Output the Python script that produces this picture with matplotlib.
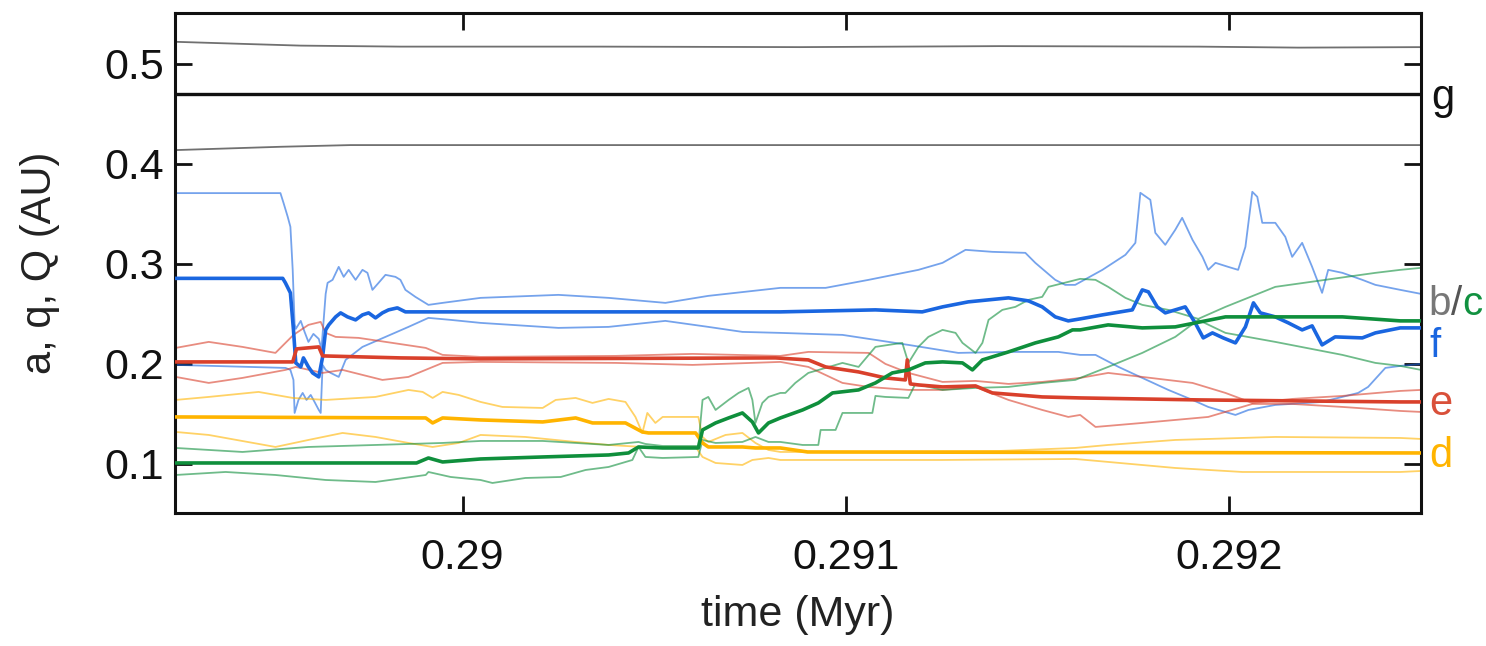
import matplotlib
matplotlib.use("Agg")
import matplotlib.pyplot as plt

plt.rcParams['font.family'] = ['Liberation Sans', 'DejaVu Sans']

# ---------------- data (time in Myr, distances in AU) ----------------
x_ticks = [0.29, 0.291, 0.292]
x_tick_labels = ['0.29', '0.291', '0.292']
y_ticks = [0.1, 0.2, 0.3, 0.4, 0.5]
y_tick_labels = ['0.1', '0.2', '0.3', '0.4', '0.5']

g_a = [(0.28925, 0.4695), (0.2925, 0.4695)]
g_Q = [(0.289252, 0.5219), (0.289447, 0.5196), (0.289578, 0.5181), (0.289838, 0.5171),
       (0.29036, 0.5171), (0.29088, 0.5166), (0.2914, 0.5176), (0.29192, 0.5171),
       (0.29218, 0.5161), (0.2925, 0.5166)]
g_q = [(0.289252, 0.4137), (0.289525, 0.417), (0.289708, 0.4187), (0.2925, 0.4187)]

f_a = [(0.289252, 0.2855), (0.289531, 0.2855), (0.289538, 0.281), (0.289551, 0.271),
       (0.289559, 0.234), (0.289565, 0.201), (0.289578, 0.197), (0.289585, 0.206),
       (0.289598, 0.197), (0.289609, 0.191), (0.289625, 0.187), (0.289635, 0.207),
       (0.289643, 0.234), (0.289651, 0.239), (0.289669, 0.247), (0.289682, 0.251),
       (0.289700, 0.247), (0.289721, 0.244), (0.289739, 0.249), (0.289755, 0.251),
       (0.289773, 0.246), (0.289791, 0.251), (0.289807, 0.254), (0.289830, 0.256),
       (0.289851, 0.252), (0.290047, 0.252), (0.290829, 0.252), (0.291077, 0.254),
       (0.291199, 0.252), (0.291252, 0.257), (0.291319, 0.262), (0.291424, 0.266),
       (0.291476, 0.263), (0.291512, 0.257), (0.291546, 0.247), (0.291580, 0.243),
       (0.291611, 0.245), (0.291669, 0.249), (0.291747, 0.254), (0.291773, 0.274),
       (0.291789, 0.272), (0.291812, 0.257), (0.291833, 0.251), (0.291859, 0.254),
       (0.291885, 0.257), (0.291911, 0.241), (0.291932, 0.226), (0.291956, 0.231),
       (0.291984, 0.226), (0.292016, 0.221), (0.292042, 0.237), (0.292063, 0.261),
       (0.292081, 0.251), (0.292120, 0.247), (0.292154, 0.241), (0.292190, 0.234),
       (0.292216, 0.238), (0.292242, 0.219), (0.292276, 0.227), (0.292347, 0.226),
       (0.292381, 0.231), (0.292446, 0.236), (0.2925, 0.236)]
f_Q = [(0.289252, 0.3707), (0.289525, 0.3707), (0.289533, 0.361), (0.289544, 0.347),
       (0.289551, 0.337), (0.289557, 0.294), (0.289562, 0.240), (0.289565, 0.235),
       (0.289578, 0.243), (0.289588, 0.232), (0.289598, 0.222), (0.289611, 0.230),
       (0.289625, 0.225), (0.289632, 0.215), (0.289643, 0.270), (0.289648, 0.281),
       (0.289661, 0.284), (0.289677, 0.297), (0.289690, 0.287), (0.289703, 0.294),
       (0.289721, 0.284), (0.289739, 0.294), (0.289752, 0.291), (0.289765, 0.274),
       (0.289781, 0.281), (0.289799, 0.289), (0.289825, 0.287), (0.289838, 0.284),
       (0.289851, 0.274), (0.289877, 0.267), (0.289911, 0.259), (0.289948, 0.261),
       (0.290047, 0.266), (0.290250, 0.269), (0.290381, 0.266), (0.290529, 0.261),
       (0.290641, 0.268), (0.290829, 0.276), (0.290947, 0.276), (0.291059, 0.284),
       (0.291189, 0.294), (0.291252, 0.301), (0.291312, 0.314), (0.291382, 0.312),
       (0.291468, 0.311), (0.291494, 0.301), (0.291546, 0.284), (0.291572, 0.279),
       (0.291598, 0.279), (0.291669, 0.294), (0.291729, 0.309), (0.291755, 0.321),
       (0.291768, 0.371), (0.291794, 0.364), (0.291807, 0.331), (0.291833, 0.319),
       (0.291859, 0.334), (0.291877, 0.346), (0.291904, 0.324), (0.291930, 0.307),
       (0.291945, 0.294), (0.291964, 0.301), (0.291997, 0.297), (0.292023, 0.294),
       (0.292042, 0.317), (0.292060, 0.372), (0.292073, 0.367), (0.292086, 0.341),
       (0.292120, 0.341), (0.292146, 0.327), (0.292164, 0.307), (0.292190, 0.321),
       (0.292216, 0.297), (0.292242, 0.271), (0.292258, 0.294), (0.292295, 0.291),
       (0.292347, 0.284), (0.292381, 0.279), (0.292446, 0.274), (0.2925, 0.270)]
f_q = [(0.289252, 0.199), (0.289538, 0.196), (0.289551, 0.194), (0.289559, 0.184),
       (0.289562, 0.151), (0.289572, 0.164), (0.289583, 0.171), (0.289593, 0.164),
       (0.289604, 0.169), (0.289614, 0.162), (0.289625, 0.154), (0.289630, 0.151),
       (0.289635, 0.199), (0.289643, 0.194), (0.289656, 0.191), (0.289677, 0.187),
       (0.289695, 0.204), (0.289739, 0.217), (0.289799, 0.227), (0.289859, 0.237),
       (0.289911, 0.246), (0.289969, 0.244), (0.290047, 0.241), (0.290250, 0.236),
       (0.290381, 0.237), (0.290529, 0.243), (0.290641, 0.237), (0.290730, 0.232),
       (0.290829, 0.231), (0.290991, 0.229), (0.291163, 0.219), (0.291293, 0.211),
       (0.291424, 0.212), (0.291554, 0.212), (0.291611, 0.209), (0.291651, 0.209),
       (0.291711, 0.197), (0.291773, 0.186), (0.291841, 0.174), (0.291904, 0.164),
       (0.291945, 0.157), (0.292016, 0.149), (0.292050, 0.154), (0.292120, 0.159),
       (0.292242, 0.162), (0.292336, 0.171), (0.292362, 0.177), (0.292407, 0.196),
       (0.292446, 0.198), (0.2925, 0.200)]

e_a = [(0.289252, 0.202), (0.289557, 0.202), (0.289567, 0.215), (0.289625, 0.217),
       (0.289635, 0.208), (0.289838, 0.206), (0.290047, 0.205), (0.290816, 0.206),
       (0.290902, 0.204), (0.290947, 0.197), (0.291033, 0.192), (0.291103, 0.186),
       (0.291155, 0.184), (0.291160, 0.204), (0.291168, 0.180), (0.291189, 0.179),
       (0.291252, 0.177), (0.291338, 0.178), (0.291382, 0.171), (0.291512, 0.167),
       (0.291611, 0.166), (0.291924, 0.164), (0.292446, 0.162), (0.2925, 0.162)]
e_Q = [(0.289252, 0.216), (0.289338, 0.222), (0.289426, 0.217), (0.289512, 0.211),
       (0.289559, 0.229), (0.289598, 0.239), (0.289630, 0.242), (0.289643, 0.231),
       (0.289669, 0.227), (0.289729, 0.226), (0.289817, 0.221), (0.289904, 0.216),
       (0.289948, 0.209), (0.290047, 0.207), (0.290400, 0.208), (0.290600, 0.210),
       (0.290829, 0.208), (0.290902, 0.212), (0.291059, 0.211), (0.291103, 0.200),
       (0.291163, 0.191), (0.291252, 0.182), (0.291338, 0.183), (0.291424, 0.180),
       (0.291512, 0.182), (0.291611, 0.186), (0.291684, 0.191), (0.291773, 0.187),
       (0.291904, 0.181), (0.291990, 0.171), (0.292060, 0.161), (0.292164, 0.165),
       (0.292295, 0.168), (0.292446, 0.173), (0.2925, 0.174)]
e_q = [(0.289252, 0.187), (0.289338, 0.181), (0.289426, 0.186), (0.289538, 0.194),
       (0.289565, 0.197), (0.289635, 0.191), (0.289687, 0.194), (0.289791, 0.184),
       (0.289859, 0.187), (0.289948, 0.201), (0.290047, 0.202), (0.290400, 0.201),
       (0.290600, 0.199), (0.290829, 0.202), (0.290902, 0.197), (0.290991, 0.181),
       (0.291059, 0.177), (0.291163, 0.174), (0.291252, 0.174), (0.291338, 0.177),
       (0.291424, 0.164), (0.291512, 0.154), (0.291580, 0.147), (0.291611, 0.149),
       (0.291651, 0.137), (0.291773, 0.141), (0.291945, 0.147), (0.292060, 0.160),
       (0.292164, 0.160), (0.292295, 0.157), (0.292446, 0.153), (0.2925, 0.152)]

d_a = [(0.289252, 0.147), (0.289904, 0.146), (0.289922, 0.141), (0.289948, 0.146),
       (0.290047, 0.144), (0.290209, 0.142), (0.290295, 0.146), (0.290339, 0.141),
       (0.290425, 0.141), (0.290469, 0.132), (0.290485, 0.131), (0.290608, 0.131),
       (0.290626, 0.121), (0.290641, 0.117), (0.290730, 0.117), (0.290764, 0.116),
       (0.290829, 0.116), (0.290900, 0.112), (0.2925, 0.111)]
d_Q = [(0.289252, 0.164), (0.289338, 0.167), (0.289468, 0.172), (0.289557, 0.166),
       (0.289643, 0.164), (0.289773, 0.167), (0.289859, 0.174), (0.289896, 0.172),
       (0.289922, 0.166), (0.289948, 0.172), (0.289990, 0.169), (0.290047, 0.162),
       (0.290104, 0.157), (0.290209, 0.156), (0.290243, 0.164), (0.290295, 0.166),
       (0.290339, 0.161), (0.290381, 0.165), (0.290425, 0.162), (0.290451, 0.147),
       (0.290469, 0.131), (0.290482, 0.151), (0.290503, 0.141), (0.290522, 0.147),
       (0.290615, 0.147), (0.290626, 0.127), (0.290641, 0.122), (0.290686, 0.129),
       (0.290730, 0.131), (0.290764, 0.121), (0.290798, 0.114), (0.290829, 0.112),
       (0.290902, 0.112), (0.291400, 0.113), (0.291598, 0.116), (0.291684, 0.119),
       (0.291859, 0.124), (0.292120, 0.127), (0.292446, 0.126), (0.2925, 0.125)]
d_q = [(0.289252, 0.132), (0.289338, 0.129), (0.289512, 0.117), (0.289598, 0.124),
       (0.289687, 0.131), (0.289773, 0.127), (0.289859, 0.121), (0.289922, 0.117),
       (0.289990, 0.121), (0.290047, 0.129), (0.290164, 0.127), (0.290295, 0.122),
       (0.290381, 0.119), (0.290469, 0.117), (0.290608, 0.117), (0.290626, 0.107),
       (0.290660, 0.101), (0.290730, 0.099), (0.290756, 0.104), (0.290798, 0.106),
       (0.290829, 0.104), (0.291000, 0.104), (0.291250, 0.104), (0.291598, 0.105),
       (0.291859, 0.096), (0.292034, 0.092), (0.292446, 0.092), (0.2925, 0.093)]

c_a = [(0.289252, 0.101), (0.289880, 0.101), (0.289911, 0.106), (0.289948, 0.102),
       (0.290047, 0.105), (0.290209, 0.107), (0.290381, 0.109), (0.290433, 0.111),
       (0.290459, 0.117), (0.290522, 0.116), (0.290615, 0.116), (0.290626, 0.134),
       (0.290660, 0.141), (0.290694, 0.146), (0.290730, 0.151), (0.290756, 0.142),
       (0.290772, 0.131), (0.290798, 0.141), (0.290829, 0.146), (0.290887, 0.154),
       (0.290928, 0.161), (0.290965, 0.171), (0.291033, 0.174), (0.291077, 0.181),
       (0.291121, 0.191), (0.291163, 0.194), (0.291207, 0.201), (0.291252, 0.202),
       (0.291304, 0.201), (0.291330, 0.194), (0.291356, 0.204), (0.291424, 0.212),
       (0.291494, 0.221), (0.291554, 0.227), (0.291591, 0.234), (0.291611, 0.234),
       (0.291684, 0.239), (0.291773, 0.236), (0.291859, 0.237), (0.291990, 0.247),
       (0.292120, 0.247), (0.292295, 0.247), (0.292446, 0.243), (0.2925, 0.243)]
c_Q = [(0.289252, 0.116), (0.289426, 0.112), (0.289598, 0.117), (0.289773, 0.119),
       (0.289948, 0.121), (0.290047, 0.123), (0.290209, 0.123), (0.290381, 0.119),
       (0.290459, 0.122), (0.290477, 0.120), (0.290522, 0.118), (0.290615, 0.118),
       (0.290626, 0.164), (0.290641, 0.167), (0.290660, 0.154), (0.290694, 0.164),
       (0.290720, 0.171), (0.290746, 0.176), (0.290756, 0.164), (0.290764, 0.141),
       (0.290782, 0.161), (0.290798, 0.167), (0.290829, 0.171), (0.290842, 0.171),
       (0.290868, 0.181), (0.290902, 0.191), (0.290947, 0.196), (0.290991, 0.201),
       (0.291033, 0.197), (0.291077, 0.217), (0.291111, 0.219), (0.291147, 0.221),
       (0.291163, 0.201), (0.291189, 0.217), (0.291215, 0.227), (0.291252, 0.234),
       (0.291286, 0.231), (0.291304, 0.221), (0.291338, 0.211), (0.291356, 0.221),
       (0.291372, 0.244), (0.291408, 0.254), (0.291442, 0.257), (0.291476, 0.264),
       (0.291512, 0.267), (0.291528, 0.277), (0.291580, 0.282), (0.291611, 0.285),
       (0.291651, 0.284), (0.291684, 0.277), (0.291729, 0.266), (0.291773, 0.259),
       (0.291841, 0.254), (0.291919, 0.245), (0.291990, 0.257), (0.292120, 0.277),
       (0.292250, 0.284), (0.292381, 0.291), (0.292446, 0.294), (0.2925, 0.296)]
c_q = [(0.289252, 0.089), (0.289382, 0.092), (0.289512, 0.089), (0.289643, 0.084),
       (0.289773, 0.082), (0.289904, 0.089), (0.289911, 0.092), (0.289969, 0.087),
       (0.290047, 0.084), (0.290078, 0.081), (0.290164, 0.086), (0.290256, 0.087),
       (0.290321, 0.094), (0.290381, 0.097), (0.290443, 0.104), (0.290459, 0.117),
       (0.290477, 0.107), (0.290522, 0.106), (0.290615, 0.107), (0.290626, 0.124),
       (0.290660, 0.121), (0.290730, 0.122), (0.290764, 0.127), (0.290798, 0.122),
       (0.290829, 0.122), (0.290887, 0.119), (0.290928, 0.119), (0.290934, 0.134),
       (0.290973, 0.134), (0.290991, 0.151), (0.291069, 0.151), (0.291077, 0.168),
       (0.291103, 0.167), (0.291163, 0.166), (0.291181, 0.180), (0.291252, 0.174),
       (0.291338, 0.176), (0.291424, 0.177), (0.291512, 0.181), (0.291598, 0.184),
       (0.291684, 0.197), (0.291773, 0.211), (0.291859, 0.227), (0.291919, 0.244),
       (0.291990, 0.231), (0.292120, 0.222), (0.292295, 0.209), (0.292381, 0.201),
       (0.292446, 0.198), (0.2925, 0.194)]

planet_colors = {'g': '#111111', 'f': '#1a66e0', 'e': '#d9402b',
                 'd': '#ffb400', 'c': '#0f8f3c'}

# ---------------- figure ----------------
fig = plt.figure(figsize=(14.86, 6.46), dpi=100)
ax = fig.add_axes([175 / 1486, 1 - 513 / 646, 1246 / 1486, (513 - 12.7) / 646])

def draw(series, color, thick):
    t, v = zip(*series)
    if thick:
        ax.plot(t, v, color=color, lw=2.6, solid_joinstyle='round', zorder=3)
    else:
        ax.plot(t, v, color=color, lw=1.3, alpha=0.6, zorder=2)

for name, (sa, sQ, sq) in {'g': (g_a, g_Q, g_q), 'f': (f_a, f_Q, f_q),
                           'e': (e_a, e_Q, e_q), 'd': (d_a, d_Q, d_q),
                           'c': (c_a, c_Q, c_q)}.items():
    col = planet_colors[name]
    draw(sQ, col, False)
    draw(sq, col, False)
    if name == 'g':
        t, v = zip(*sa)
        ax.plot(t, v, color=col, lw=2.4, zorder=4)
    else:
        draw(sa, col, True)

ax.set_xlim(0.28925, 0.2925)
ax.set_ylim(0.051, 0.551)
ax.set_xticks(x_ticks)
ax.set_xticklabels(x_tick_labels)
ax.set_yticks(y_ticks)
ax.set_yticklabels(y_tick_labels)

for s in ax.spines.values():
    s.set_linewidth(2.2)
    s.set_color('#111111')
ax.tick_params(direction='in', length=12, width=2, top=True, right=True,
               labelsize=31, colors='#111111')
ax.tick_params(axis='x', pad=18)
ax.tick_params(axis='y', pad=8)

ax.set_xlabel('time (Myr)', fontsize=31, labelpad=12, color='#222222')
ax.set_ylabel('a, q, Q (AU)', fontsize=30, color='#222222')
ax.yaxis.set_label_coords(-0.092, 0.5)

# right-hand labels
tr = ax.get_yaxis_transform()
ax.text(1.008, 0.4547, 'g', color='#111111', fontsize=30, transform=tr,
        ha='left', va='baseline', clip_on=False)
tb = ax.text(1.006, 0.249, 'b', color='#777777', fontsize=29, transform=tr,
             ha='left', va='baseline', clip_on=False)
ts = ax.annotate('/', xy=(1, 0), xycoords=tb, fontsize=29, color='#555555',
                 ha='left', va='bottom', annotation_clip=False)
ax.annotate('c', xy=(1, 0), xycoords=ts, fontsize=29, color='#119140',
            ha='left', va='bottom', annotation_clip=False)
ax.text(1.007, 0.207, 'f', color='#1a66e0', fontsize=29, transform=tr,
        ha='left', va='baseline', clip_on=False)
ax.text(1.007, 0.149, 'e', color='#d9503a', fontsize=30, transform=tr,
        ha='left', va='baseline', clip_on=False)
ax.text(1.007, 0.097, 'd', color='#ffb400', fontsize=30, transform=tr,
        ha='left', va='baseline', clip_on=False)

fig.savefig('out.png', dpi=100)
